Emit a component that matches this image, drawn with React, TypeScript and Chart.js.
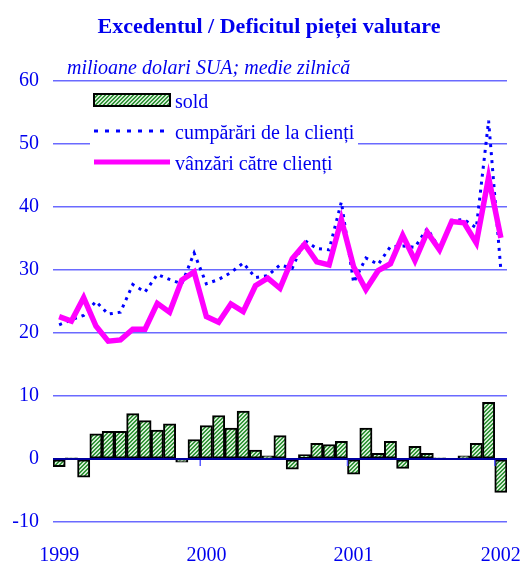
import React, { useEffect, useRef } from "react";
import { Chart, registerables } from "chart.js";
Chart.register(...registerables);

const yearLabels = ["1999", "2000", "2001", "2002"];
const monthNames = ["ian", "feb", "mar", "apr", "mai", "iun", "iul", "aug", "sep", "oct", "noi", "dec"];
const categories: string[] = [];
for (let y = 0; y < 3; y++) for (const m of monthNames) categories.push(m + " " + yearLabels[y]);
categories.push("ian 2002");

const sold = [-1.2, 0.2, -2.9, 4.0, 4.4, 4.4, 7.2, 6.1, 4.6, 5.6, -0.5, 3.1,
  5.3, 6.9, 4.9, 7.6, 1.4, 0.5, 3.7, -1.6, 0.7, 2.5, 2.3, 2.8,
  -2.4, 4.9, 0.9, 2.8, -1.5, 2.0, 0.9, 0.2, -0.1, 0.5, 2.5, 9.0, -5.3];
const cumparari = [21.3, 22.1, 22.8, 25.0, 23.0, 23.3, 27.7, 26.5, 29.3, 28.5, 27.8, 32.7,
  27.8, 28.5, 29.6, 31.1, 28.8, 29.1, 30.8, 30.3, 34.7, 33.4, 33.2, 40.8,
  28.0, 31.9, 30.9, 33.7, 33.8, 33.6, 36.6, 33.4, 37.9, 38.0, 36.7, 53.7, 30.0];
const vanzari = [22.6, 21.9, 25.6, 21.1, 18.7, 18.9, 20.6, 20.6, 24.7, 23.3, 28.4, 29.7,
  22.6, 21.7, 24.6, 23.4, 27.5, 28.7, 27.1, 31.8, 34.1, 31.3, 30.8, 38.0,
  30.5, 26.9, 29.9, 31.0, 35.5, 31.5, 36.0, 33.2, 37.7, 37.5, 34.3, 44.7, 35.1];

const title = "Excedentul / Deficitul pieței valutare";
const subtitle = "milioane dolari SUA; medie zilnică";
const legendLabels = ["sold", "cumpărări de la clienți", "vânzări către clienți"];

const TEXT = "#0000ee";
const FONT = '"Liberation Serif", "Times New Roman", serif';

function makePattern(ctx: CanvasRenderingContext2D) {
  const pc = document.createElement("canvas");
  pc.width = 4;
  pc.height = 4;
  const p = pc.getContext("2d")!;
  p.fillStyle = "#d2ecd2";
  p.fillRect(0, 0, 4, 4);
  p.fillStyle = "#34953a";
  for (let i = 0; i < 4; i++) {
    p.fillRect(i, 3 - i, 1, 1);
    p.fillRect((i + 1) % 4, 3 - i, 1, 1);
  }
  return ctx.createPattern(pc, "repeat")!;
}

export default function App() {
  const ref = useRef<HTMLCanvasElement>(null);
  useEffect(() => {
    const canvas = ref.current!;
    const ctx0 = canvas.getContext("2d")!;
    const pattern = makePattern(ctx0);

    const decor = {
      id: "decor",
      afterDatasetsDraw(chart: any) {
        const ctx = chart.ctx as CanvasRenderingContext2D;
        const { left, right } = chart.chartArea;
        const xs = chart.scales.x;
        const ys = chart.scales.y;
        const y0 = ys.getPixelForValue(0);
        ctx.save();
        // year ticks
        ctx.strokeStyle = "#5a5aff";
        ctx.lineWidth = 1.5;
        for (let i = 12; i < categories.length; i += 12) {
          const bx = (xs.getPixelForValue(i - 1) + xs.getPixelForValue(i)) / 2;
          ctx.beginPath();
          ctx.moveTo(bx, y0);
          ctx.lineTo(bx, y0 + 7);
          ctx.stroke();
        }
        // zero line
        ctx.strokeStyle = "#0000a0";
        ctx.lineWidth = 2;
        ctx.beginPath();
        ctx.moveTo(left, y0);
        ctx.lineTo(right, y0);
        ctx.stroke();

        // legend
        const lx = left + 41;
        const top = chart.chartArea.top;
        ctx.fillStyle = "#ffffff";
        ctx.fillRect(left + 37, top + 3, 268, 92);
        ctx.fillStyle = pattern;
        ctx.fillRect(lx, top + 13, 76, 12);
        ctx.strokeStyle = "#000";
        ctx.lineWidth = 2;
        ctx.strokeRect(lx, top + 13, 76, 12);
        ctx.strokeStyle = "#0000ff";
        ctx.lineWidth = 3;
        ctx.setLineDash([4, 7]);
        ctx.beginPath();
        ctx.moveTo(lx, top + 50);
        ctx.lineTo(lx + 76, top + 50);
        ctx.stroke();
        ctx.setLineDash([]);
        ctx.strokeStyle = "#ff00ff";
        ctx.lineWidth = 5;
        ctx.beginPath();
        ctx.moveTo(lx, top + 81);
        ctx.lineTo(lx + 76, top + 81);
        ctx.stroke();
        ctx.fillStyle = TEXT;
        ctx.font = "20px " + FONT;
        ctx.textAlign = "left";
        ctx.textBaseline = "alphabetic";
        ctx.fillText(legendLabels[0], lx + 81, top + 27);
        ctx.fillText(legendLabels[1], lx + 81, top + 58);
        ctx.fillText(legendLabels[2], lx + 81, top + 89);

        // title & subtitle
        ctx.font = "bold 22px " + FONT;
        ctx.textAlign = "center";
        ctx.fillText(title, 269, 33);
        ctx.font = "italic 20px " + FONT;
        ctx.textAlign = "left";
        ctx.fillText(subtitle, 67, 74);
        ctx.restore();
      },
    };

    const chart = new Chart(canvas, {
      type: "bar",
      data: {
        labels: categories,
        datasets: [
          {
            type: "bar",
            label: legendLabels[0],
            data: sold,
            backgroundColor: pattern,
            borderColor: "#000000",
            borderWidth: 2,
            borderSkipped: false,
            barPercentage: 1,
            categoryPercentage: 1,
            order: 3,
          } as any,
          {
            type: "line",
            label: legendLabels[1],
            data: cumparari,
            borderColor: "#0000ff",
            borderWidth: 3,
            borderDash: [3, 5],
            pointRadius: 0,
            tension: 0,
            fill: false,
            order: 2,
          },
          {
            type: "line",
            label: legendLabels[2],
            data: vanzari,
            borderColor: "#ff00ff",
            borderWidth: 5.5,
            pointRadius: 0,
            tension: 0,
            fill: false,
            borderJoinStyle: "miter",
            order: 1,
          },
        ],
      },
      options: {
        animation: false,
        responsive: true,
        maintainAspectRatio: false,
        layout: { padding: { top: 81, right: 16, left: 0, bottom: 0 } },
        plugins: {
          legend: { display: false },
          title: { display: false },
          tooltip: { enabled: false },
        },
        scales: {
          x: {
            grid: { display: false },
            border: { display: false },
            ticks: {
              autoSkip: false,
              maxRotation: 0,
              padding: 14,
              color: TEXT,
              font: { family: FONT, size: 20 },
              callback: (_v: any, i: number) => (i % 12 === 0 ? yearLabels[i / 12] : ""),
            },
            afterFit: (s: any) => {
              s.height = 41;
              s.paddingLeft = 0;
              s.paddingRight = 0;
            },
          },
          y: {
            min: -10,
            max: 60,
            grid: {
              drawTicks: false,
              lineWidth: 1.5,
              color: (c: any) => (c.tick && c.tick.value === 0 ? "rgba(0,0,0,0)" : "#6a6aff"),
            },
            border: { display: false },
            ticks: {
              stepSize: 10,
              padding: 14,
              color: TEXT,
              font: { family: FONT, size: 20 },
            },
            afterFit: (s: any) => {
              s.width = 53;
              s.paddingTop = 0;
              s.paddingBottom = 0;
            },
          },
        },
      },
      plugins: [decor],
    });
    return () => chart.destroy();
  }, []);

  return (
    <div style={{ position: "fixed", left: 0, top: 0, width: 523, height: 563, background: "#fff" }}>
      <canvas ref={ref} />
    </div>
  );
}
